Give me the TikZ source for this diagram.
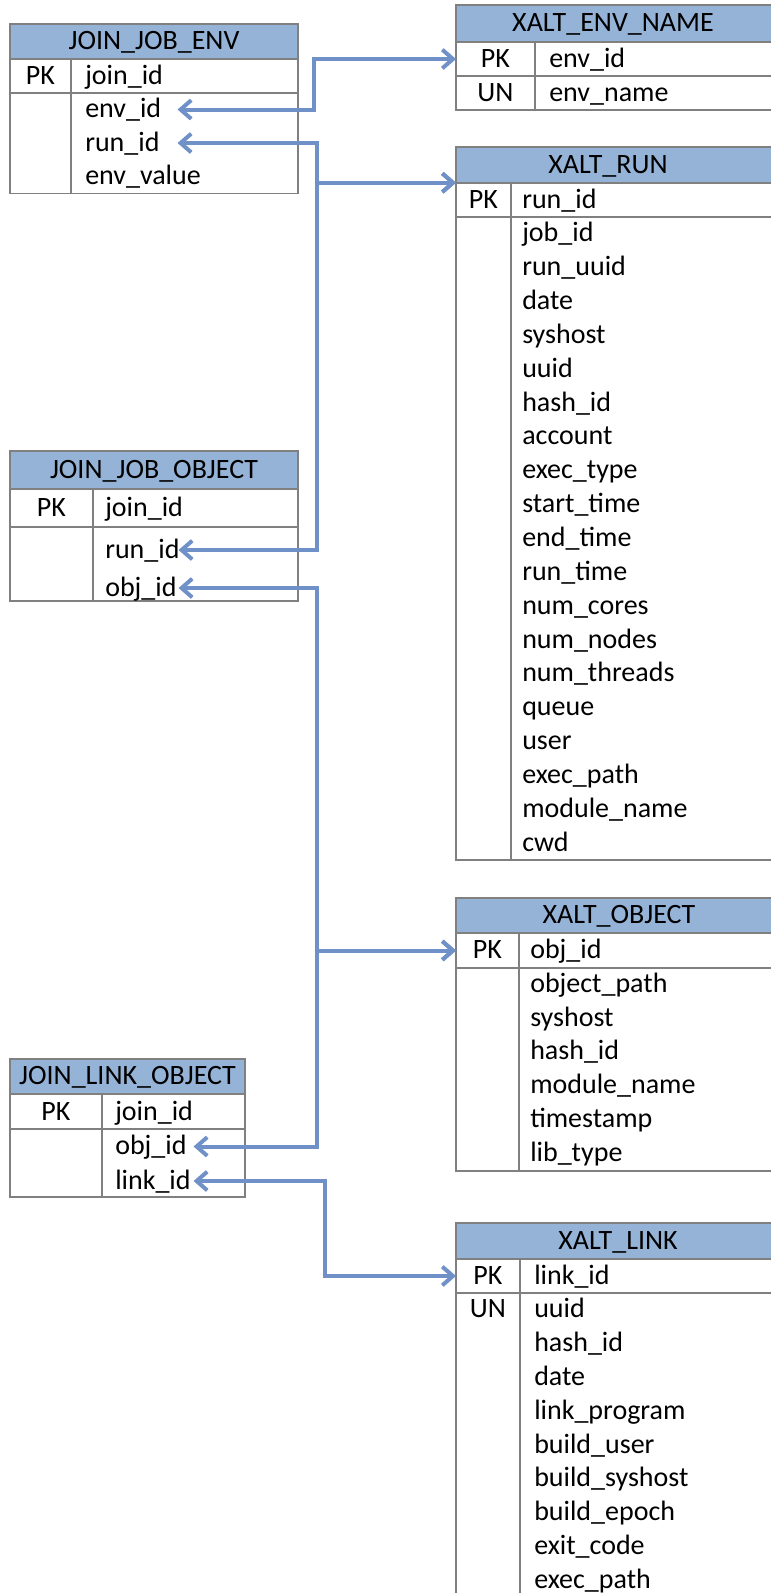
\documentclass[tikz,border=0pt]{standalone}
\usepackage{fontspec}
\setmainfont{Carlito}
\usetikzlibrary{positioning, arrows.meta}
\definecolor{HeaderBlue}{RGB}{149,179,215}
\definecolor{LinkBlue}{RGB}{111,145,199}
\definecolor{GridGray}{RGB}{128,128,128}

\begin{document}
\begin{tikzpicture}[x=0.75pt, y=-0.75pt]
  \tikzstyle{tabline} = [draw=GridGray, line width=1pt]
  \tikzstyle{headfill} = [fill=HeaderBlue, draw=GridGray, line width=1pt]
  \tikzstyle{tabname} = [inner sep=0pt, font=\fontsize{21}{25}\selectfont, text height=14pt, text depth=2pt]
  \tikzstyle{keycell} = [tabname, minimum height=25.5pt]
  \tikzstyle{field} = [tabname, anchor=west]
  \tikzstyle{fklink} = [draw=LinkBlue, line width=3pt,
    {Straight Barb[length=8pt, width=14pt]}-{Straight Barb[length=8pt, width=14pt]}]

  \useasboundingbox (0,0) rectangle (771,1593);
  \clip (0,0) rectangle (771,1593);

  % JOIN_JOB_ENV
  \coordinate (jje) at (10,24);
  \filldraw[headfill] (jje) rectangle (298,59);
  \draw[tabline] (10,59) rectangle (298,193.5);
  \draw[tabline] (71,59) -- (71,193.5) (10,93) -- (298,93);
  \node[tabname] (jje-cab) at (154,41.5) {JOIN\_JOB\_ENV};
  \node[keycell] (jje-pk) at (40.5,76) {PK};
  \node[field] (jje-0) at (85,76) {join\_id};
  \foreach \col [count=\i] in {env\_id, run\_id, env\_value}
    \node[field, text width=69pt] (jje-\i) at (85,76+\i*33.5) {\col};

  % JOIN_JOB_OBJECT
  \coordinate (jjo) at (10,451);
  \filldraw[headfill] (jjo) rectangle (298,489);
  \draw[tabline] (10,489) rectangle (298,601);
  \draw[tabline] (93,489) -- (93,601) (10,527) -- (298,527);
  \node[tabname] (jjo-cab) at (154,470) {JOIN\_JOB\_OBJECT};
  \node[keycell] (jjo-pk) at (51.5,508) {PK};
  \node[field] (jjo-0) at (105,508) {join\_id};
  \foreach \col [count=\i] in {run\_id, obj\_id}
    \node[field, text width=54.75pt] (jjo-\i) at (105,512+\i*38) {\col};

  % JOIN_LINK_OBJECT
  \coordinate (jlo) at (10,1059);
  \filldraw[headfill] (jlo) rectangle (245,1094);
  \draw[tabline] (10,1094) rectangle (245,1197);
  \draw[tabline] (102,1094) -- (102,1197) (10,1129) -- (245,1129);
  \node[tabname] (jlo-cab) at (127.5,1076.5) {JOIN\_LINK\_OBJECT};
  \node[keycell] (jlo-pk) at (56,1112) {PK};
  \node[field] (jlo-0) at (115,1112) {join\_id};
  \foreach \col [count=\i] in {obj\_id, link\_id}
    \node[field, text width=58.5pt] (jlo-\i) at (115,1112+\i*34.5) {\col};

  % XALT_ENV_NAME
  \coordinate (xen) at (456,5);
  \filldraw[headfill] (xen) rectangle (790,42);
  \draw[tabline] (456,42) rectangle (790,110);
  \draw[tabline] (535,42) -- (535,110) (456,76) -- (790,76);
  \node[tabname] (xen-cab) at (613,23.5) {XALT\_ENV\_NAME};
  \node[keycell] (xen-pk) at (495.5,59) {PK};
  \node[field] (xen-0) at (549,59) {env\_id};
  \node[keycell] (xen-un) at (495.5,93) {UN};
  \node[field] (xen-1) at (549,93) {env\_name};

  % XALT_RUN
  \coordinate (xrun) at (456,147);
  \filldraw[headfill] (xrun) rectangle (790,183);
  \draw[tabline] (456,183) rectangle (790,860);
  \draw[tabline] (511,183) -- (511,860) (456,217) -- (790,217);
  \node[tabname] (xrun-cab) at (608,165) {XALT\_RUN};
  \node[keycell] (xrun-pk) at (483.5,200) {PK};
  \node[field] (xrun-0) at (522,200) {run\_id};
  \foreach \col [count=\i] in {job\_id, run\_uuid, date, syshost, uuid, hash\_id,
      account, exec\_type, start\_time, end\_time, run\_time, num\_cores,
      num\_nodes, num\_threads, queue, user, exec\_path, module\_name, cwd}
    \node[field] (xrun-\i) at (522,200+\i*33.85) {\col};

  % XALT_OBJECT
  \coordinate (xobj) at (456,898);
  \filldraw[headfill] (xobj) rectangle (790,933);
  \draw[tabline] (456,933) rectangle (790,1171);
  \draw[tabline] (519,933) -- (519,1171) (456,968) -- (790,968);
  \node[tabname] (xobj-cab) at (619,915.5) {XALT\_OBJECT};
  \node[keycell] (xobj-pk) at (487.5,950.5) {PK};
  \node[field] (xobj-0) at (530,950.5) {obj\_id};
  \foreach \col [count=\i] in {object\_path, syshost, hash\_id, module\_name,
      timestamp, lib\_type}
    \node[field] (xobj-\i) at (530,950.5+\i*33.8) {\col};

  % XALT_LINK
  \coordinate (xlink) at (456,1223);
  \filldraw[headfill] (xlink) rectangle (790,1259);
  \draw[tabline] (456,1259) rectangle (790,1610);
  \draw[tabline] (520,1259) -- (520,1610) (456,1293) -- (790,1293);
  \node[tabname] (xlink-cab) at (618,1241) {XALT\_LINK};
  \node[keycell] (xlink-pk) at (488,1276) {PK};
  \node[field] (xlink-0) at (534,1276) {link\_id};
  \node[keycell] (xlink-un) at (488,1309.8) {UN};
  \foreach \col [count=\i] in {uuid, hash\_id, date, link\_program, build\_user,
      build\_syshost, build\_epoch, exit\_code, exec\_path}
    \node[field] (xlink-\i) at (534,1276+\i*33.8) {\col};

  % conectores
  \coordinate (via1) at (314,0);
  \coordinate (via2) at (317,0);
  \coordinate (via3) at (325,0);
  \draw[fklink] (jje-1.east) -| (via1 |- xen-pk) -- (xen |- xen-pk);
  \draw[fklink] (jje-2.east) -| (via2 |- xrun-pk.north) -- (xrun |- xrun-pk.north);
  \draw[fklink] (jjo-1.east) -| (via2 |- xrun-pk.north) -- (xrun |- xrun-pk.north);
  \draw[fklink] (jjo-2.east) -| (via2 |- xobj-pk) -- (xobj |- xobj-pk);
  \draw[fklink] (jlo-1.east) -| (via2 |- xobj-pk) -- (xobj |- xobj-pk);
  \draw[fklink] (jlo-2.east) -| (via3 |- xlink-pk) -- (xlink |- xlink-pk);
\end{tikzpicture}
\end{document}
